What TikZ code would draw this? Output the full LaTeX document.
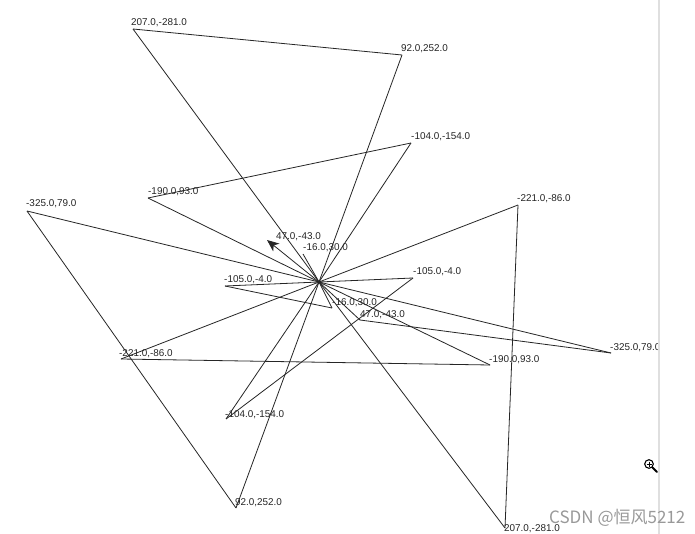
\documentclass[tikz,border=0pt]{standalone}
\usepackage{fontspec}
\setmainfont{Liberation Sans}
\newfontfamily\cjkfont{Noto Sans CJK SC}
\usetikzlibrary{arrows.meta}
\begin{document}
\begin{tikzpicture}[x=1pt,y=-1pt,
  edge/.style={draw=black!85,line width=0.8pt},
  lbl/.style={anchor=base west,inner sep=0pt,font=\fontsize{9.9}{11}\selectfont,text=black!85}]
\fill[white] (0,0) rectangle (695,534);
\useasboundingbox (0,0) rectangle (695,534);
% points
\coordinate (O) at (319,282);
\coordinate (A) at (133,29);
\coordinate (B) at (402,55);
\coordinate (C) at (411,143);
\coordinate (D) at (148,198);
\coordinate (E) at (27,211);
\coordinate (F) at (267,240);
\coordinate (G) at (303,254);
\coordinate (H) at (225,286);
\coordinate (I) at (518,205);
\coordinate (A2) at (505,528);
\coordinate (B2) at (236,508);
\coordinate (C2) at (226,419);
\coordinate (D2) at (490,365);
\coordinate (E2) at (611,353);
\coordinate (F2) at (360,320);
\coordinate (G2) at (332,308);
\coordinate (H2) at (413,278);
\coordinate (I2) at (121,359);
% edges
\draw[edge] (A) -- (B);
\draw[edge] (A) -- (O);
\draw[edge] (B) -- (O);
\draw[edge] (C) -- (D);
\draw[edge] (C) -- (O);
\draw[edge] (D) -- (O);
\draw[edge] (E) -- (O);
\draw[edge] (E) -- (B2);
\draw[edge] (I) -- (O);
\draw[edge] (I) -- (A2);
\draw[edge] (G) -- (O);
\draw[edge] (H) -- (O);
\draw[edge] (H) -- (G2);
\draw[edge] (G2) -- (O);
\draw[edge,-{Stealth[length=12pt,width=10pt,inset=3.5pt]}] (O) -- (F);
\draw[edge] (A2) -- (O);
\draw[edge] (B2) -- (O);
\draw[edge] (C2) -- (O);
\draw[edge] (C2) -- (H2);
\draw[edge] (H2) -- (O);
\draw[edge] (I2) -- (O);
\draw[edge] (I2) -- (D2);
\draw[edge] (D2) -- (O);
\draw[edge] (E2) -- (O);
\draw[edge] (E2) -- (F2);
\draw[edge] (F2) -- (O);
% labels
\node[lbl] (lA) at (131,26) {207.0,-281.0};
\node[lbl] (lB) at (401,52) {92.0,252.0};
\node[lbl] (lC) at (411,140) {-104.0,-154.0};
\node[lbl] (lD) at (148,195) {-190.0,93.0};
\node[lbl] (lE) at (26,207) {-325.0,79.0};
\node[lbl] (lF) at (276,240) {47.0,-43.0};
\node[lbl] (lG) at (303,251) {-16.0,30.0};
\node[lbl] (lH) at (224,283) {-105.0,-4.0};
\node[lbl] (lI) at (517,202) {-221.0,-86.0};
\node[lbl] (lA2) at (504,531) {207.0,-281.0};
\node[lbl] (lB2) at (235,505) {92.0,252.0};
\node[lbl] (lC2) at (225,417) {-104.0,-154.0};
\node[lbl] (lD2) at (489,362) {-190.0,93.0};
\begin{scope}
\clip (0,0) rectangle (657,534);
\node[lbl] (lE2) at (610,350) {-325.0,79.0};
\end{scope}
\node[lbl] (lF2) at (360,317) {47.0,-43.0};
\node[lbl] (lG2) at (332,305) {-16.0,30.0};
\node[lbl] (lH2) at (413,275) {-105.0,-4.0};
\node[lbl] (lI2) at (119,356) {-221.0,-86.0};
% window edge
\draw[gray!25,line width=2.5pt] (659,0) -- (659,534);
% magnifier icon
\draw[black,line width=1.1pt] (649,464) circle (4.3pt);
\draw[black,line width=0.9pt] (646.5,464) -- (651.5,464) (649,461.5) -- (649,466.5);
\draw[black,line width=1.8pt,line cap=round] (652.5,467.5) -- (657,472);
% watermark
\node[anchor=base west,inner sep=0pt,font=\cjkfont\fontsize{17}{20}\selectfont,text=black!40] (wm) at (549,523) {CSDN @恒风5212};
\end{tikzpicture}
\end{document}
